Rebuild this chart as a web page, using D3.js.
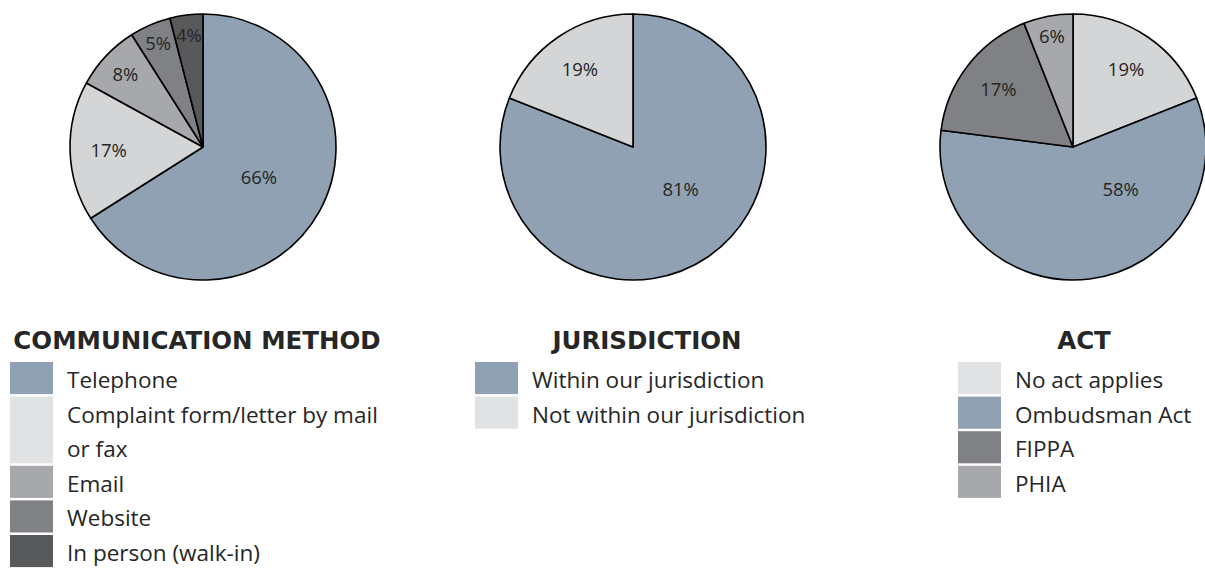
<!DOCTYPE html>
<html>
<head>
<meta charset="utf-8">
<script src="https://cdn.jsdelivr.net/npm/d3@7"></script>
<style>
  body { margin: 0; background: #fff; }
  svg { display: block; }
</style>
</head>
<body>
<svg id="chart" width="1205" height="568"></svg>
<script>
// data
var commTitle = "COMMUNICATION METHOD";
var commLabels = ["Telephone", "Complaint form/letter by mail or fax", "Email", "Website", "In person (walk-in)"];
var commValues = [66, 17, 8, 5, 4];

var jurTitle = "JURISDICTION";
var jurLabels = ["Within our jurisdiction", "Not within our jurisdiction"];
var jurValues = [81, 19];

var actTitle = "ACT";
var actLabels = ["No act applies", "Ombudsman Act", "FIPPA", "PHIA"];
var actValues = [19, 58, 17, 6];

// colours for slices, and for the legend swatches
var pieColours = {
  "Telephone": "#8fa1b2",
  "Complaint form/letter by mail or fax": "#d4d5d7",
  "Email": "#a7a8ab",
  "Website": "#808184",
  "In person (walk-in)": "#58595b",
  "Within our jurisdiction": "#8fa1b2",
  "Not within our jurisdiction": "#d4d5d7",
  "No act applies": "#d4d5d7",
  "Ombudsman Act": "#8fa1b2",
  "FIPPA": "#808184",
  "PHIA": "#a7a8ab"
};
var lightSwatch = "#e1e2e4";

function swatchColour(name){
  var c = pieColours[name];
  if(c == "#d4d5d7")
    return lightSwatch;
  return c;
}

var charts = [
  {title: commTitle, labels: commLabels, values: commValues, cx: 203, titleX: 197, legendX: 10, wrap: 335},
  {title: jurTitle, labels: jurLabels, values: jurValues, cx: 633, titleX: 647, legendX: 475, wrap: 340},
  {title: actTitle, labels: actLabels, values: actValues, cx: 1073, titleX: 1084, legendX: 958, wrap: 240}
];

var svg = d3.select("#chart");
var cy = 147, radius = 133;
var pitch = 34.6;

var pie = d3.pie().sort(null).value(function(d){ return d.value; });
var arc = d3.arc().innerRadius(0).outerRadius(radius);

function labelPos(d){
  var v = d.data.value;
  var a = (d.startAngle + d.endAngle) / 2;
  var k;
  if(v > 50){
    k = 0.48;
    if(a > 2.3) a = 2.3;   // keep big-slice labels toward lower right
  }
  else if(v >= 15)
    k = 0.71;
  else if(v >= 8)
    k = 0.8;
  else
    k = 0.85;
  return [Math.sin(a) * radius * k, -Math.cos(a) * radius * k];
}

charts.forEach(function(c){
  var data = c.labels.map(function(l, i){ return {name: l, value: c.values[i]}; });

  var g = svg.append("g")
    .attr("transform", "translate(" + c.cx + "," + cy + ")");

  g.selectAll("path")
    .data(pie(data))
    .enter()
    .append("path")
    .attr("d", arc)
    .attr("fill", function(d){ return pieColours[d.data.name]; })
    .attr("stroke", "#000")
    .attr("stroke-width", 1.6)
    .attr("stroke-linejoin", "round");

  g.selectAll("text")
    .data(pie(data))
    .enter()
    .append("text")
    .attr("x", function(d){ return labelPos(d)[0]; })
    .attr("y", function(d){ return labelPos(d)[1]; })
    .attr("dy", "0.36em")
    .attr("text-anchor", "middle")
    .attr("font-family", "Open Sans, sans-serif")
    .attr("font-size", 18.5)
    .attr("fill", "#262626")
    .text(function(d){ return d.data.value + "%"; });

  // legend
  svg.append("text")
    .attr("x", c.titleX)
    .attr("y", 349)
    .attr("text-anchor", "middle")
    .attr("font-family", "DejaVu Sans, sans-serif")
    .attr("font-weight", "bold")
    .attr("font-size", 24.5)
    .attr("fill", "#262626")
    .text(c.title);

  var top = 362;
  data.forEach(function(d){
    var txt = svg.append("text")
      .attr("x", c.legendX + 57)
      .attr("font-family", "Open Sans, sans-serif")
      .attr("font-size", 22.5)
      .attr("fill", "#262626");

    // simple word wrap
    var words = d.name.split(" "), line = [], lines = 0;
    var tspan = txt.append("tspan").attr("x", c.legendX + 57).attr("y", top + 26);
    words.forEach(function(w){
      line.push(w);
      tspan.text(line.join(" "));
      if(tspan.node().getComputedTextLength() > c.wrap && line.length > 1){
        line.pop();
        tspan.text(line.join(" "));
        line = [w];
        lines++;
        tspan = txt.append("tspan")
          .attr("x", c.legendX + 57)
          .attr("y", top + 26 + lines * pitch)
          .text(w);
      }
    });
    lines++;

    svg.append("rect")
      .attr("x", c.legendX)
      .attr("y", top)
      .attr("width", 43)
      .attr("height", lines * pitch - 2.5)
      .attr("fill", swatchColour(d.name));

    top += lines * pitch;
  });
});
</script>
</body>
</html>
